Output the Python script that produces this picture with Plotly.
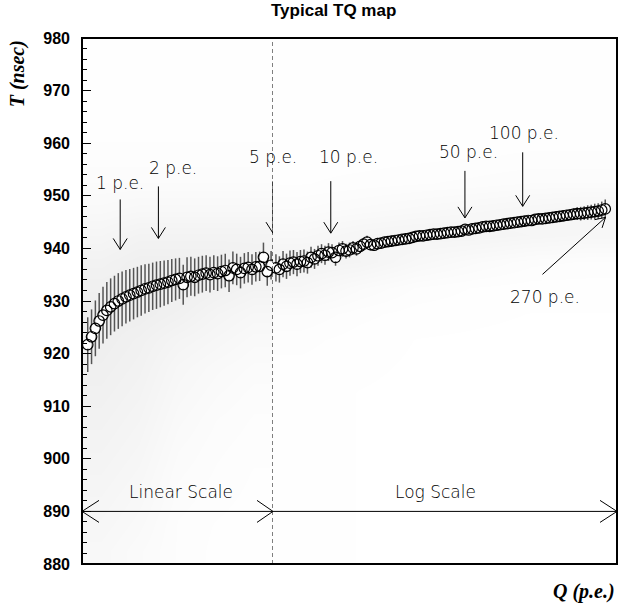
import numpy as np
import plotly.graph_objects as go

# ---------------- data ----------------
# linear region (Q in p.e., 0..5)
q_lin = [0.15, 0.25, 0.35, 0.45, 0.55, 0.65, 0.75, 0.85, 0.95,
         1.05, 1.15, 1.25, 1.35, 1.45, 1.55, 1.65, 1.75, 1.85, 1.95,
         2.05, 2.15, 2.25, 2.35, 2.45, 2.55, 2.65, 2.75, 2.85, 2.95,
         3.05, 3.15, 3.25, 3.35, 3.45, 3.55, 3.65, 3.75, 3.85, 3.95,
         4.05, 4.15, 4.25, 4.35, 4.45, 4.55, 4.65, 4.75, 4.85, 4.95]
t_lin = [921.7, 923.2, 924.8, 926.2, 927.3, 928.2, 928.9, 929.5, 930.0,
         930.4, 930.8, 931.1, 931.4, 931.7, 932.0, 932.3, 932.5, 932.8, 933.0,
         933.2, 933.4, 933.6, 933.9, 934.1, 934.3, 933.1, 934.5, 934.7, 934.5,
         934.9, 935.1, 935.3, 935.0, 935.4, 935.2, 935.6, 935.8, 934.8, 936.3,
         936.0, 935.4, 936.2, 936.4, 936.0, 936.5, 936.6, 938.3, 935.6, 936.8]
e_lin = [5.2, 5.2, 5.3, 5.3, 5.4, 5.4, 5.4, 5.3, 5.3,
         5.2, 5.1, 5.0, 4.9, 4.8, 4.8, 4.7, 4.6, 4.5, 4.5,
         4.4, 4.3, 4.2, 4.1, 4.0, 3.9, 3.8, 3.8, 3.7, 3.6,
         3.5, 3.5, 3.4, 3.4, 3.3, 3.3, 3.2, 3.2, 3.1, 3.1,
         3.0, 3.0, 2.9, 2.9, 2.9, 2.8, 2.8, 2.8, 2.7, 2.7]

# log region (Q in p.e., 5..270)
q_log = [5.18, 5.40, 5.64, 5.88, 6.13, 6.39, 6.67, 6.95, 7.25, 7.56,
         7.89, 8.23, 8.58, 8.95, 9.33, 9.73, 10.15, 10.59, 11.04, 11.51,
         12.01, 12.52, 13.06, 13.62, 14.21, 14.82, 15.45, 16.11, 16.80, 17.53,
         18.28, 19.06, 19.88, 20.73, 21.62, 22.55, 23.52, 24.53, 25.58, 26.68,
         27.82, 29.02, 30.26, 31.56, 32.91, 34.33, 35.80, 37.34, 38.94, 40.61,
         42.35, 44.17, 46.07, 48.04, 50.10, 52.25, 54.50, 56.84, 59.28, 61.82,
         64.47, 67.24, 70.13, 73.14, 76.27, 79.55, 82.96, 86.52, 90.24, 94.11,
         98.15, 102.4, 106.8, 111.3, 116.1, 121.1, 126.3, 131.7, 137.4, 143.3,
         149.4, 155.8, 162.5, 169.5, 176.8, 184.4, 192.3, 200.5, 209.1, 218.1,
         227.5, 237.3, 247.4, 258.1, 269.2]
t_log = [936.3, 936.0, 937.0, 936.6, 937.2, 937.4, 937.0, 937.5, 937.6, 937.3,
         938.3, 938.0, 938.6, 939.0, 938.7, 939.3, 939.2, 938.3, 939.6, 939.9,
         939.5, 939.7, 940.1, 939.9, 940.4, 940.8, 941.2, 940.7, 940.6, 940.9,
         941.0, 941.2, 941.3, 941.4, 941.5, 941.6, 941.7, 941.8, 941.9, 942.1,
         942.3, 942.4, 942.4, 942.5, 942.6, 942.7, 942.7, 942.8, 942.9, 943.0,
         943.1, 943.1, 943.2, 943.3, 943.6, 943.5, 943.7, 943.8, 943.9, 944.1,
         944.2, 944.2, 944.3, 944.4, 944.5, 944.6, 944.7, 944.8, 944.9, 945.0,
         945.1, 945.2, 945.3, 945.3, 945.5, 945.6, 945.6, 945.7, 945.8, 945.9,
         946.0, 946.1, 946.2, 946.3, 946.4, 946.5, 946.6, 946.6, 946.7, 946.8,
         946.9, 947.0, 947.1, 947.3, 947.5]
e_log = [2.6, 2.5, 2.5, 2.4, 2.4, 2.3, 2.3, 2.2, 2.2, 2.1,
         2.0, 1.9, 1.9, 1.8, 1.8, 1.7, 1.6, 1.6, 1.5, 1.5,
         1.4, 1.4, 1.3, 1.3, 1.2, 1.2, 1.2, 1.1, 1.1, 1.1,
         1.0, 1.0, 1.0, 1.0, 1.0, 0.9, 0.9, 0.9, 0.9, 0.9,
         0.9, 0.9, 0.9, 0.9, 0.9, 0.9, 0.9, 0.9, 0.9, 0.9,
         0.9, 0.9, 0.9, 0.9, 0.9, 0.9, 0.9, 0.9, 0.9, 0.9,
         0.9, 0.9, 0.9, 0.9, 0.9, 0.9, 0.9, 0.9, 0.9, 0.9,
         0.9, 0.9, 0.9, 0.9, 0.9, 0.9, 0.9, 0.9, 0.9, 1.0,
         1.0, 1.0, 1.0, 1.0, 1.0, 1.1, 1.2, 1.3, 1.3, 1.4,
         1.4, 1.5, 1.5, 1.6, 1.8]

# background hit density (relative, read by eye), rows = T bins
dens_t = [882.5, 887.5, 892.5, 897.5, 902.5, 907.5, 912.5, 917.5, 922.5, 927.5,
          932.5, 937.5, 942.5, 947.5, 952.5, 957.5, 962.5, 967.5, 972.5, 977.5]
dens_q_lin = [0.5, 1.5, 2.5, 3.5, 4.5]
dens_lin = [
    [3.0, 2.0, 1.0, 0.5, 0.3],
    [3.5, 2.5, 1.0, 0.6, 0.4],
    [4.0, 3.0, 1.3, 0.8, 0.5],
    [4.5, 3.5, 1.6, 1.0, 0.6],
    [5.0, 4.0, 2.0, 1.2, 0.8],
    [5.5, 4.5, 2.5, 1.5, 1.0],
    [6.0, 5.0, 3.0, 2.0, 1.3],
    [6.5, 5.5, 3.5, 2.5, 1.8],
    [7.0, 6.0, 4.5, 3.5, 2.5],
    [7.0, 7.0, 6.0, 4.5, 3.5],
    [6.5, 7.0, 7.0, 6.0, 5.0],
    [5.5, 6.5, 6.5, 6.5, 6.0],
    [4.0, 5.0, 5.0, 5.0, 5.0],
    [2.5, 3.0, 3.0, 3.0, 3.0],
    [1.5, 1.5, 1.5, 1.5, 1.5],
    [0.8, 0.8, 0.8, 0.8, 0.8],
    [0.5, 0.5, 0.5, 0.5, 0.5],
    [0.4, 0.4, 0.4, 0.4, 0.4],
    [0.3, 0.3, 0.3, 0.3, 0.3],
    [0.3, 0.3, 0.3, 0.3, 0.3],
]
dens_q_log = [7, 14, 28, 56, 112, 224]
dens_log = [
    [0.4, 0.2, 0.1, 0.1, 0.1, 0.1],
    [0.4, 0.2, 0.1, 0.1, 0.1, 0.1],
    [0.4, 0.2, 0.1, 0.1, 0.1, 0.1],
    [0.4, 0.2, 0.1, 0.1, 0.1, 0.1],
    [0.4, 0.2, 0.1, 0.1, 0.1, 0.1],
    [0.4, 0.2, 0.1, 0.1, 0.1, 0.1],
    [0.4, 0.2, 0.1, 0.1, 0.1, 0.1],
    [0.5, 0.3, 0.15, 0.1, 0.1, 0.1],
    [0.8, 0.4, 0.2, 0.15, 0.1, 0.1],
    [1.5, 0.8, 0.4, 0.3, 0.2, 0.2],
    [3.5, 2.0, 1.0, 0.6, 0.4, 0.4],
    [5.0, 4.5, 3.0, 2.0, 1.2, 1.0],
    [3.0, 4.0, 4.5, 4.5, 4.0, 3.5],
    [1.5, 2.0, 2.5, 3.0, 3.5, 4.0],
    [0.6, 0.8, 1.0, 1.2, 1.5, 1.5],
    [0.4, 0.4, 0.5, 0.6, 0.7, 0.7],
    [0.3, 0.3, 0.3, 0.4, 0.4, 0.4],
    [0.3, 0.3, 0.3, 0.4, 0.4, 0.4],
    [0.3, 0.3, 0.3, 0.4, 0.4, 0.4],
    [0.3, 0.3, 0.3, 0.4, 0.4, 0.4],
]

# annotations: label, Q of arrow, T of arrow tip, arrow length (px), label Q, label T
labels = ["1 p.e.", "2 p.e.", "5 p.e.", "10 p.e.", "50 p.e.", "100 p.e."]
arrow_q = [1, 2, 5, 10, 50, 100]
arrow_tip_t = [939.8, 941.9, 942.9, 942.9, 945.8, 948.0]
arrow_len = [50, 52, 52, 52, 47, 54]
label_q = [1.0, 2.38, 5.0, 12.4, 52.4, 101.5]
label_t = [952.5, 955.2, 957.4, 957.4, 958.3, 962.0]

X_LIN_MAX = 5
X_LOG_MAX = 310
Y_RANGE = [880, 980]
SPLIT = 0.357

GREY = "rgb(85,85,85)"
fig = go.Figure()

cs = [[0, "rgb(255,255,255)"], [1, "rgb(222,222,222)"]]
for dq, dz, xa in [(dens_q_lin, dens_lin, "x"), (dens_q_log, dens_log, "x2")]:
    fig.add_trace(go.Heatmap(x=dq, y=dens_t, z=dz, colorscale=cs, zmin=0, zmax=14,
                             zsmooth="best", showscale=False, xaxis=xa, yaxis="y", hoverinfo="skip"))

for qs, ts, es, xa in [(q_lin, t_lin, e_lin, "x"), (q_log, t_log, e_log, "x2")]:
    # error bars
    fig.add_trace(go.Scatter(x=qs, y=ts, mode="markers", xaxis=xa, yaxis="y",
                             marker=dict(size=1, color="rgba(0,0,0,0)"),
                             error_y=dict(type="data", array=es, color=GREY, thickness=1.5, width=0),
                             hoverinfo="skip"))
    # white interiors
    fig.add_trace(go.Scatter(x=qs, y=ts, mode="markers", xaxis=xa, yaxis="y",
                             marker=dict(size=8, color="white", line=dict(width=0)),
                             hoverinfo="skip"))
    # open circles
    fig.add_trace(go.Scatter(x=qs, y=ts, mode="markers", xaxis=xa, yaxis="y",
                             marker=dict(size=10.5, symbol="circle-open", color="black",
                                         line=dict(width=1.2, color="black")),
                             hoverinfo="skip"))

shapes = []
# frame
shapes.append(dict(type="rect", xref="paper", yref="paper", x0=0, x1=1, y0=0, y1=1,
                   line=dict(color="black", width=2), layer="above"))
# dashed split line at 5 p.e.
shapes.append(dict(type="line", xref="x", yref="paper", x0=X_LIN_MAX, x1=X_LIN_MAX, y0=0, y1=1,
                   line=dict(color="black", width=1, dash="4px,3px")))
# arrows
for q, tt, L in zip(arrow_q, arrow_tip_t, arrow_len):
    xr = "x" if q <= X_LIN_MAX else "x2"
    shapes.append(dict(type="path", xref=xr, yref="y", xsizemode="pixel", ysizemode="pixel",
                       xanchor=q, yanchor=tt,
                       path=f"M0,{L} L0,0 M-7,11 L0,0 L7,11",
                       line=dict(color="black", width=1)))
# 270 p.e. arrow
shapes.append(dict(type="path", xref="x2", yref="y", xsizemode="pixel", ysizemode="pixel",
                   xanchor=270, yanchor=945.9,
                   path="M-63,-57 L0,0 M-3.4,-10.5 L0,0 L-10.8,-2.3",
                   line=dict(color="black", width=1)))
# linear / log scale arrow at T = 890
shapes.append(dict(type="line", xref="paper", yref="y", x0=0, x1=1, y0=890, y1=890,
                   line=dict(color="black", width=1)))
shapes.append(dict(type="path", xref="paper", yref="y", xsizemode="pixel", ysizemode="pixel",
                   xanchor=0, yanchor=890, path="M17,11 L0,0 L17,-11",
                   line=dict(color="black", width=1)))
shapes.append(dict(type="path", xref="paper", yref="y", xsizemode="pixel", ysizemode="pixel",
                   xanchor=1, yanchor=890, path="M-17,11 L0,0 L-17,-11",
                   line=dict(color="black", width=1)))
shapes.append(dict(type="path", xref="x", yref="y", xsizemode="pixel", ysizemode="pixel",
                   xanchor=X_LIN_MAX, yanchor=890, path="M-16,11 L16,-11 M-16,-11 L16,11",
                   line=dict(color="black", width=1)))

ann_font = dict(family="DejaVu Sans, sans-serif", size=17, color="#000", weight=200)
annotations = []
for lab, lq, lt in zip(labels, label_q, label_t):
    if lq <= X_LIN_MAX:
        annotations.append(dict(text=lab, x=lq, y=lt, xref="x", yref="y", showarrow=False, font=ann_font))
    else:
        annotations.append(dict(text=lab, x=np.log10(lq), y=lt, xref="x2", yref="y", showarrow=False, font=ann_font))
annotations.append(dict(text="270 p.e.", x=np.log10(130), y=930.8, xref="x2", yref="y", showarrow=False, font=ann_font))
annotations.append(dict(text="Linear Scale", x=2.6, y=893.6, xref="x", yref="y", showarrow=False, font=ann_font))
annotations.append(dict(text="Log Scale", x=np.log10(35), y=893.6, xref="x2", yref="y", showarrow=False, font=ann_font))

# titles
annotations.append(dict(text="<b>Typical TQ map</b>", xref="paper", yref="paper", x=0.471, y=1.052,
                        xanchor="center", yanchor="middle", showarrow=False,
                        font=dict(family="Liberation Sans, Arial", size=17, color="black")))
annotations.append(dict(text="<b><i>T (nsec)</i></b>", xref="paper", yref="paper", x=-0.12, y=1.0,
                        xanchor="center", yanchor="top", textangle=-90, showarrow=False,
                        font=dict(family="Liberation Serif, Times New Roman, serif", size=20, color="black")))
annotations.append(dict(text="<b><i>Q (p.e.)</i></b>", xref="paper", yref="paper", x=1.0, y=-0.053,
                        xanchor="right", yanchor="middle", showarrow=False,
                        font=dict(family="Liberation Serif, Times New Roman, serif", size=20, color="black")))

axis_common = dict(showgrid=False, zeroline=False, showline=False, showticklabels=False, ticks="")
yaxis_common = dict(range=Y_RANGE, showgrid=False, zeroline=False, showline=False,
                    ticks="inside", ticklen=9, tickwidth=1, tickcolor="black",
                    tick0=880, dtick=10,
                    minor=dict(ticks="inside", ticklen=5, tickwidth=1, tickcolor="black", dtick=2, showgrid=False))

fig.update_layout(
    width=618, height=606,
    margin=dict(l=82, r=1, t=38, b=42),
    paper_bgcolor="white", plot_bgcolor="white",
    showlegend=False,
    xaxis=dict(domain=[0, SPLIT], range=[0, X_LIN_MAX], anchor="y", **axis_common),
    xaxis2=dict(domain=[SPLIT, 1], type="log", range=[np.log10(X_LIN_MAX), np.log10(X_LOG_MAX)],
                anchor="y", **axis_common),
    yaxis=dict(anchor="x", side="left", showticklabels=True, ticklabelstandoff=11,
               tickfont=dict(family="Liberation Sans, Arial", size=16, color="black", weight="bold"),
               **yaxis_common),
    yaxis2=dict(anchor="x2", side="right", overlaying="y", showticklabels=False, **yaxis_common),
    shapes=shapes,
    annotations=annotations,
)

fig.write_html("out.html")
